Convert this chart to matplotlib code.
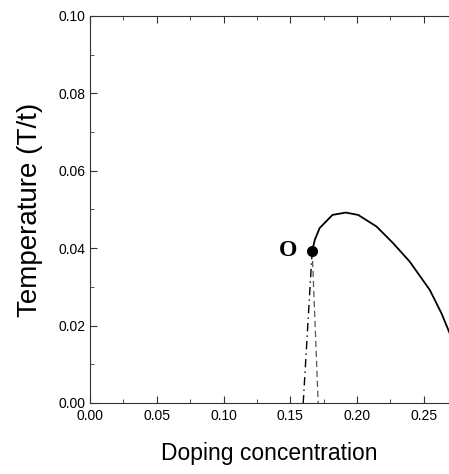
#! /usr/bin/env python3

import numpy as np
import matplotlib
matplotlib.use("Agg")
import matplotlib.pyplot as plt
from matplotlib.ticker import MultipleLocator

# solid boundary above point O
doping = [0.1664, 0.1684, 0.1720, 0.1816, 0.1916, 0.2008, 0.2146, 0.2270,
          0.2395, 0.2545, 0.2632, 0.2700]
temp = [0.0393, 0.0422, 0.0452, 0.0486, 0.0492, 0.0486, 0.0456, 0.0413,
        0.0365, 0.0292, 0.0232, 0.0175]

# the two lines that drop from O to zero temperature
left_x = [0.1664, 0.1597]
left_y = [0.0393, 0.0]
right_x = [0.1664, 0.1709]
right_y = [0.0393, 0.0]

point_o = (0.1664, 0.0393)

plt.rcParams["font.family"] = ["Liberation Sans", "DejaVu Sans"]

fig = plt.figure(figsize=(4.49, 4.74), dpi=100)
ax = fig.add_axes([0.2004, 0.1498, 0.80, 0.8165])

ax.plot(doping, temp, color="black", lw=1.3)
ax.plot(left_x, left_y, color="black", lw=1.0, ls=(0, (6, 3, 1, 3)))
ax.plot(right_x, right_y, color="#555555", lw=0.9, ls=(0, (5, 3)))
ax.plot(*point_o, "o", color="black", ms=7)
ax.text(0.1485, 0.0393, "O", family=["Liberation Serif", "DejaVu Serif"],
        fontweight="bold", fontsize=17, ha="center", va="center")

ax.set_xlim(0, 0.269)
ax.set_ylim(0, 0.10)
ax.xaxis.set_major_locator(MultipleLocator(0.05))
ax.xaxis.set_minor_locator(MultipleLocator(0.025))
ax.yaxis.set_major_locator(MultipleLocator(0.02))
ax.yaxis.set_minor_locator(MultipleLocator(0.01))
ax.xaxis.set_major_formatter(plt.FormatStrFormatter("%.2f"))
ax.yaxis.set_major_formatter(plt.FormatStrFormatter("%.2f"))

ax.tick_params(which="both", direction="in", top=True, right=False,
               labelsize=10, color="#333333")
ax.tick_params(axis="x", pad=4)
ax.tick_params(axis="y", pad=3)
ax.tick_params(which="major", length=5)
ax.tick_params(which="minor", length=3)
ax.spines["right"].set_visible(False)
for s in ["left", "bottom", "top"]:
    ax.spines[s].set_color("#333333")

ax.set_xlabel("Doping concentration", fontsize=16.5, labelpad=14)
ax.set_ylabel("Temperature (T/t)", fontsize=20, labelpad=11)

plt.savefig("out.png")
plt.close(fig)
